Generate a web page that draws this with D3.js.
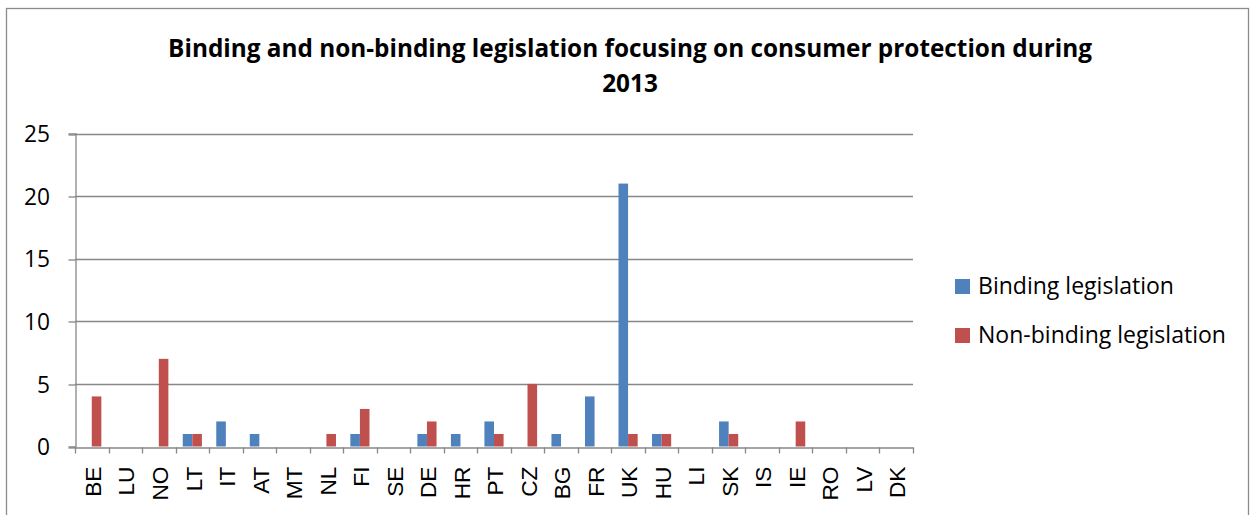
<!DOCTYPE html>
<html>
<head>
<meta charset="utf-8">
<script src="https://cdn.jsdelivr.net/npm/d3@7"></script>
<style>
  html, body { margin: 0; padding: 0; background: #fff; }
  svg { display: block; font-family: "Open Sans", sans-serif; }
</style>
</head>
<body>
<svg id="chart" width="1250" height="515"></svg>
<script>
// Countries in display order
const countries = ["BE","LU","NO","LT","IT","AT","MT","NL","FI","SE","DE","HR","PT","CZ","BG","FR","UK","HU","LI","SK","IS","IE","RO","LV","DK"];
// Number of binding legal acts per country
const binding    = [0,0,0,1,2,1,0,0,1,0,1,1,2,0,1,4,21,1,0,2,0,0,0,0,0];
// Number of non-binding acts per country
const nonBinding = [4,0,7,1,0,0,0,1,3,0,2,0,1,5,0,0,1,1,0,1,0,2,0,0,0];
const seriesNames = ["Binding legislation", "Non-binding legislation"];
const seriesColors = ["#4F81BD", "#C0504D"];
const yTicks = [0, 5, 10, 15, 20, 25];
const titleLines = ["Binding and non-binding legislation focusing on consumer protection during", "2013"];

const svg = d3.select("#chart");
const W = 1250, H = 515;
const margin = { left: 75, right: 337, top: 133, bottom: 68 };

// scale a text element's font size so its rendered width equals `width`
function fitWidth(sel, width) {
  sel.each(function () {
    const fs = parseFloat(this.getAttribute("font-size"));
    const w = this.getComputedTextLength();
    if (w > 0) this.setAttribute("font-size", (fs * width / w).toFixed(2));
  });
}

// outer chart frame
svg.append("rect")
  .attr("x", 6.5).attr("y", 8.5)
  .attr("width", W - 8).attr("height", H)
  .attr("fill", "#fff").attr("stroke", "#8c8c8c").attr("stroke-width", 1.3);

const x = d3.scaleBand()
  .domain(countries)
  .range([margin.left, W - margin.right]);

const y = d3.scaleLinear()
  .domain([0, 25])
  .range([H - margin.bottom - 0.5, margin.top + 0.5]);

// horizontal gridlines
svg.append("g")
  .selectAll("line")
  .data(yTicks.filter(d => d > 0))
  .join("line")
  .attr("x1", margin.left).attr("x2", W - margin.right)
  .attr("y1", d => Math.round(y(d)) + 0.5).attr("y2", d => Math.round(y(d)) + 0.5)
  .attr("stroke", "#878787").attr("stroke-width", 1.3);

// y axis
const yAxis = svg.append("g")
  .attr("transform", `translate(${margin.left + 0.5},0)`)
  .call(d3.axisLeft(y).tickValues(yTicks).tickSize(7).tickPadding(18.5).tickFormat(d3.format("d")));
yAxis.select(".domain").attr("stroke", "#878787").attr("stroke-width", 1.3);
yAxis.selectAll(".tick line").attr("stroke", "#878787").attr("stroke-width", 1.3)
  .attr("transform", d => `translate(0,${Math.round(y(d)) + 0.5 - y(d)})`);
const yLabels = yAxis.selectAll(".tick text")
  .attr("fill", "#000").attr("font-size", 19).attr("font-family", "'Open Sans', sans-serif")
  .attr("dy", "0.36em");
fitWidth(yAxis.selectAll(".tick text").filter(d => d === 25), 26);
const yFs = yAxis.selectAll(".tick text").filter(d => d === 25).attr("font-size");
yLabels.attr("font-size", yFs);

// bars
const inner = d3.scaleBand()
  .domain([0, 1])
  .range([0, x.bandwidth()])
  .paddingInner(0)
  .paddingOuter(0.75);

const seriesData = [binding, nonBinding];
seriesData.forEach((vals, si) => {
  svg.append("g")
    .selectAll("rect")
    .data(countries.map((c, i) => ({ c, v: vals[i] })))
    .join("rect")
    .attr("x", d => x(d.c) + inner(si))
    .attr("width", inner.bandwidth())
    .attr("y", d => y(d.v))
    .attr("height", d => y(0) - y(d.v))
    .attr("fill", seriesColors[si]);
});

// x axis
const xAxis = svg.append("g")
  .attr("transform", `translate(0,${Math.round(y(0)) + 0.5})`)
  .call(d3.axisBottom(x).tickSize(0).tickPadding(0));
xAxis.select(".domain").attr("stroke", "#878787").attr("stroke-width", 1.3);
xAxis.selectAll(".tick text").remove();
// category boundary ticks
xAxis.append("g")
  .selectAll("line")
  .data(countries.concat(["__end"]))
  .join("line")
  .attr("x1", (d, i) => Math.round(x.range()[0] + i * x.step()) + 0.5)
  .attr("x2", (d, i) => Math.round(x.range()[0] + i * x.step()) + 0.5)
  .attr("y1", 0).attr("y2", 6)
  .attr("stroke", "#878787").attr("stroke-width", 1.3);
// rotated category labels
const xLabels = xAxis.append("g")
  .selectAll("text")
  .data(countries)
  .join("text")
  .attr("transform", d => `translate(${x(d) + x.bandwidth() / 2 + 1},${19}) rotate(-90)`)
  .attr("text-anchor", "end")
  .attr("dy", "0.36em")
  .attr("font-size", yFs)
  .attr("fill", "#000")
  .text(d => d);

// title
const title = svg.append("text")
  .attr("text-anchor", "middle")
  .attr("font-weight", "bold")
  .attr("font-size", 20)
  .attr("fill", "#000");
const t1 = title.append("tspan").attr("x", 630).attr("y", 57).text(titleLines[0]);
title.append("tspan").attr("x", 630).attr("y", 92).text(titleLines[1]);
{
  const w = t1.node().getComputedTextLength();
  title.attr("font-size", (20 * 924 / w).toFixed(2));
}

// legend
const legend = svg.append("g");
const legendTexts = [];
seriesNames.forEach((name, i) => {
  const ly = 286 + i * 49;
  legend.append("rect")
    .attr("x", 955).attr("y", ly - 7).attr("width", 15).attr("height", 15)
    .attr("fill", seriesColors[i]);
  legendTexts.push(legend.append("text")
    .attr("x", 978).attr("y", ly).attr("dy", "0.36em")
    .attr("font-size", 20).attr("fill", "#000")
    .text(name));
});
fitWidth(legendTexts[1], 248);
legendTexts[0].attr("font-size", legendTexts[1].attr("font-size"));
</script>
</body>
</html>
